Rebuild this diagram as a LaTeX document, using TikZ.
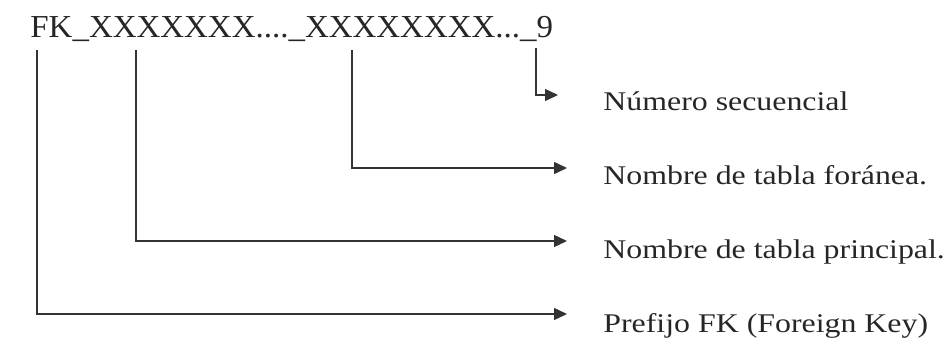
\documentclass[tikz,border=0pt]{standalone}
\usepackage{fontspec}
\setmainfont{Liberation Serif}
\usetikzlibrary{arrows.meta}
\newcommand{\wide}[1]{\scalebox{1.18}[1]{#1}}

\begin{document}
\begin{tikzpicture}[x=0.5pt,y=-0.5pt,>={Triangle[length=6.5pt,width=6pt]},
  link/.style={->,draw=black!80,line width=0.7pt},
  label node/.style={anchor=base west,inner sep=0pt,text=black!85,font=\fontsize{13.5}{16}\selectfont}]
  \useasboundingbox (0,0) rectangle (946,343);

  \node[label node,font=\fontsize{16}{19}\selectfont] (name) at (30,37)
    {\scalebox{1.03}[1]{FK\_XXXXXXX....\_XXXXXXXX...\_9}};

  \coordinate (t1) at (37,50);
  \coordinate (t2) at (136,50);
  \coordinate (t3) at (352,50);
  \coordinate (t4) at (536,48);

  \coordinate (e1) at (558,95);
  \coordinate (e2) at (567,168);
  \coordinate (e3) at (567,241);
  \coordinate (e4) at (567,314);

  \node[label node] (sec) at (603,110) {\wide{Número secuencial}};
  \node[label node] (for) at (603,184) {\wide{Nombre de tabla foránea.}};
  \node[label node] (pri) at (603,258) {\wide{Nombre de tabla principal.}};
  \node[label node] (pre) at (603,332) {\wide{Prefijo FK (Foreign Key)}};

  \draw[link] (t4) |- (e1);
  \draw[link] (t3) |- (e2);
  \draw[link] (t2) |- (e3);
  \draw[link] (t1) |- (e4);
\end{tikzpicture}
\end{document}
